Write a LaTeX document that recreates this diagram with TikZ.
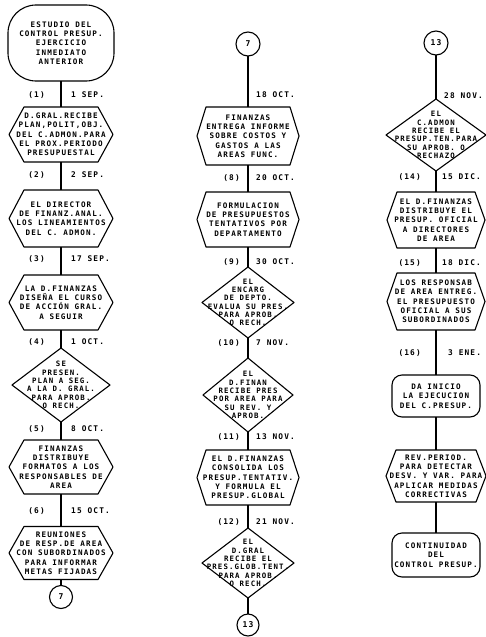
\documentclass[tikz,border=0pt]{standalone}
\usepackage{fontspec}
\newfontfamily\flowfont[LetterSpace=15]{DejaVu Sans Mono}
\newcommand{\hexpath}[2]{\draw[shapeline] (#1.west) -- ([xshift=#2]#1.north west) -- ([xshift=-#2]#1.north east) -- (#1.east) -- ([xshift=-#2]#1.south east) -- ([xshift=#2]#1.south west) -- cycle;}
\newcommand{\diapath}[1]{\draw[shapeline] (#1.north) -- (#1.east) -- (#1.south) -- (#1.west) -- cycle;}
\begin{document}
\begin{tikzpicture}[x=1pt,y=-1pt,
  shapeline/.style={line width=1.1pt, line join=round},
  txt/.style={font=\flowfont\bfseries\fontsize{7.6}{9.3}\selectfont, align=center, inner sep=0pt, outer sep=0pt},
  hexbox/.style={txt, draw=none, rectangle},
  diabox/.style={txt, draw=none, rectangle, font=\flowfont\bfseries\fontsize{7.4}{8.3}\selectfont},
  termbox/.style={txt, draw, line width=1.1pt, rectangle, rounded corners=10pt},
  conn/.style={txt, draw, line width=1.1pt, circle, minimum size=23pt, font=\flowfont\bfseries\fontsize{8}{9}\selectfont},
  lab/.style={font=\flowfont\bfseries\fontsize{7.8}{9}\selectfont, inner sep=0pt},
  link/.style={line width=1.1pt}]
\useasboundingbox (0,0) rectangle (486,637);
% ---------- column 1 ----------
\node[termbox, rounded corners=28pt, minimum width=106pt, minimum height=76pt] (s1) at (61,43) {ESTUDIO DEL\\CONTROL PRESUP.\\EJERCICIO\\INMEDIATO\\ANTERIOR};
\node[hexbox, minimum width=104pt, minimum height=55pt] (h1) at (61,134.5) {D.GRAL.RECIBE\\PLAN,POLIT,OBJ.\\DEL C.ADMON.PARA\\EL PROX.PERIODO\\PRESUPUESTAL};
\node[hexbox, minimum width=104pt, minimum height=57pt] (h2) at (61,218.5) {EL DIRECTOR\\DE FINANZ.ANAL.\\LOS LINEAMIENTOS\\DEL C. ADMON.};
\node[hexbox, minimum width=104pt, minimum height=55pt] (h3) at (61,302.5) {LA D.FINANZAS\\DISEÑA EL CURSO\\DE ACCIÓN GRAL.\\A SEGUIR};
\node[diabox, minimum width=98pt, minimum height=74pt] (d1) at (61,385) {SE\\PRESEN.\\PLAN A SEG.\\A LA D. GRAL.\\PARA APROB.\\O RECH.};
\node[hexbox, minimum width=104pt, minimum height=54pt] (h4) at (61,467) {FINANZAS\\DISTRIBUYE\\FORMATOS A LOS\\RESPONSABLES DE\\AREA};
\node[hexbox, minimum width=104pt, minimum height=53pt] (h5) at (61,553) {REUNIONES\\DE RESP.DE AREA\\CON SUBORDINADOS\\PARA INFORMAR\\METAS FIJADAS};
\node[conn] (c7a) at (61,597) {7};
\hexpath{h1}{15}\hexpath{h2}{15}\hexpath{h3}{15}\hexpath{h4}{15}\hexpath{h5}{15}
\diapath{d1}
\draw[link] (s1.south) -- (h1.north);
\draw[link] (h1.south) -- (h2.north);
\draw[link] (h2.south) -- (h3.north);
\draw[link] (h3.south) -- (d1.north);
\draw[link] (d1.south) -- (h4.north);
\draw[link] (h4.south) -- (h5.north);
\draw[link] (h5.south) -- (c7a.north);
\node[lab, anchor=east] (n1) at (45,95) {(1)};   \node[lab, anchor=west] (t1) at (71,95) {1 SEP.};
\node[lab, anchor=east] (n2) at (45,175) {(2)};  \node[lab, anchor=west] (t2) at (71,175) {2 SEP.};
\node[lab, anchor=east] (n3) at (45,259) {(3)};  \node[lab, anchor=west] (t3) at (71,259) {17 SEP.};
\node[lab, anchor=east] (n4) at (45,342) {(4)};  \node[lab, anchor=west] (t4) at (71,342) {1 OCT.};
\node[lab, anchor=east] (n5) at (45,429) {(5)};  \node[lab, anchor=west] (t5) at (71,429) {8 OCT.};
\node[lab, anchor=east] (n6) at (45,511) {(6)};  \node[lab, anchor=west] (t6) at (71,511) {15 OCT.};
% ---------- column 2 ----------
\node[conn, minimum size=24pt] (c7b) at (248,44) {7};
\node[hexbox, minimum width=102pt, minimum height=58pt] (ha) at (248,136) {FINANZAS\\ENTREGA INFORME\\SOBRE COSTOS Y\\GASTOS A LAS\\AREAS FUNC.};
\node[hexbox, minimum width=102pt, minimum height=55pt] (hb) at (248,219.5) {FORMULACION\\DE PRESUPUESTOS\\TENTATIVOS POR\\DEPARTAMENTO};
\node[diabox, minimum width=92pt, minimum height=71pt] (db) at (248,302.5) {EL\\ENCARG\\DE DEPTO.\\EVALUA SU PRES.\\PARA APROB.\\O RECH.};
\node[diabox, minimum width=90pt, minimum height=74pt] (dc) at (248,395) {EL\\D.FINAN\\RECIBE PRES\\POR AREA PARA\\SU REV. Y\\APROB.};
\node[hexbox, minimum width=102pt, minimum height=55pt] (hc) at (248,477.5) {EL D.FINANZAS\\CONSOLIDA LOS\\PRESUP.TENTATIV.\\Y FORMULA EL\\PRESUP.GLOBAL};
\node[diabox, minimum width=92pt, minimum height=70pt] (dd) at (248,563) {EL\\D.GRAL\\RECIBE EL\\PRES.GLOB.TENT.\\PARA APROB.\\O RECH.};
\node[conn, minimum size=22pt] (c13a) at (248,625) {13};
\hexpath{ha}{9}\hexpath{hb}{9}\hexpath{hc}{9}
\diapath{db}\diapath{dc}\diapath{dd}
\draw[link] (c7b.south) -- (ha.north);
\draw[link] (ha.south) -- (hb.north);
\draw[link] (hb.south) -- (db.north);
\draw[link] (db.south) -- (dc.north);
\draw[link] (dc.south) -- (hc.north);
\draw[link] (hc.south) -- (dd.north);
\draw[link] (dd.south) -- (c13a.north);
\node[lab, anchor=west] (t7) at (256,95) {18 OCT.};
\node[lab, anchor=east] (n8) at (240,178) {(8)};   \node[lab, anchor=west] (t8) at (256,178) {20 OCT.};
\node[lab, anchor=east] (n9) at (240,262) {(9)};   \node[lab, anchor=west] (t9) at (256,262) {30 OCT.};
\node[lab, anchor=east] (n10) at (240,343) {(10)}; \node[lab, anchor=west] (t10) at (256,343) {7 NOV.};
\node[lab, anchor=east] (n11) at (240,437) {(11)}; \node[lab, anchor=west] (t11) at (256,437) {13 NOV.};
\node[lab, anchor=east] (n12) at (240,522) {(12)}; \node[lab, anchor=west] (t12) at (256,522) {21 NOV.};
% ---------- column 3 ----------
\node[conn, minimum size=24pt] (c13b) at (436,43) {13};
\node[diabox, minimum width=100pt, minimum height=72pt] (de) at (436,135) {EL\\C.ADMON\\RECIBE EL\\PRESUP.TEN.PARA\\SU APROB. O\\RECHAZO};
\node[hexbox, minimum width=98pt, minimum height=56pt] (he) at (436,220) {EL D.FINANZAS\\DISTRIBUYE EL\\PRESUP. OFICIAL\\A DIRECTORES\\DE AREA};
\node[hexbox, minimum width=98pt, minimum height=57pt] (hf) at (436,301.5) {LOS RESPONSAB\\DE AREA ENTREG.\\EL PRESUPUESTO\\OFICIAL A SUS\\SUBORDINADOS};
\node[termbox, minimum width=88pt, minimum height=42pt] (tg) at (436,396) {DA INICIO\\LA EJECUCION\\DEL C.PRESUP.};
\node[hexbox, minimum width=100pt, minimum height=52pt] (hh) at (436,476) {REV.PERIOD.\\PARA DETECTAR\\DESV. Y VAR. PARA\\APLICAR MEDIDAS\\CORRECTIVAS};
\node[termbox, minimum width=88pt, minimum height=44pt] (ti) at (436,555) {CONTINUIDAD\\DEL\\CONTROL PRESUP.};
\hexpath{he}{10}\hexpath{hf}{10}\hexpath{hh}{10}
\diapath{de}
\draw[link] (c13b.south) -- (de.north);
\draw[link] (de.south) -- (he.north);
\draw[link] (he.south) -- (hf.north);
\draw[link] (hf.south) -- (tg.north);
\draw[link] (tg.south) -- (hh.north);
\draw[link] (hh.south) -- (ti.north);
\node[lab, anchor=west] (t13) at (444,96) {28 NOV.};
\node[lab, anchor=east] (n14) at (421,177) {(14)}; \node[lab, anchor=west] (t14) at (442,177) {15 DIC.};
\node[lab, anchor=east] (n15) at (421,263) {(15)}; \node[lab, anchor=west] (t15) at (442,263) {18 DIC.};
\node[lab, anchor=east] (n16) at (421,353) {(16)}; \node[lab, anchor=west] (t16) at (448,353) {3 ENE.};
\end{tikzpicture}
\end{document}
